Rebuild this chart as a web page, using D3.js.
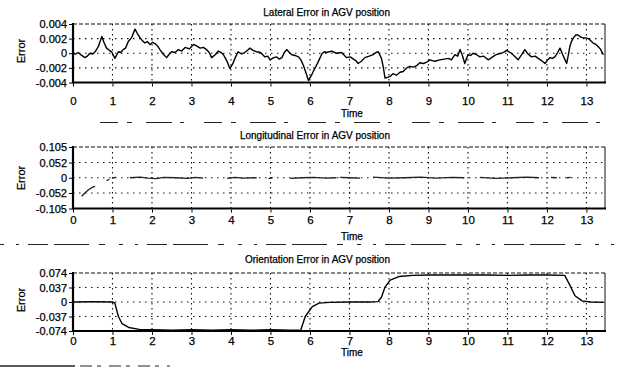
<!DOCTYPE html>
<html><head><meta charset="utf-8">
<script src="https://cdn.jsdelivr.net/npm/d3@7"></script>
<style>
body{margin:0;background:#fff;}
text{font-family:"Liberation Sans",Arial,sans-serif;fill:#000;stroke:#000;stroke-width:0.25px;}
</style></head>
<body>
<svg id="c" width="617" height="370"></svg>
<script>
// ---------- DATA ----------
const xTickValues = [0,1,2,3,4,5,6,7,8,9,10,11,12,13];
const timeDomain = [0, 13.47];

const latTicks = [0.004, 0.002, 0, -0.002, -0.004];
const latTickLabels = ["0.004","0.002","0","-0.002","-0.004"];
const latTime = [0,0.07,0.13,0.22,0.30,0.36,0.43,0.50,0.56,0.64,0.73,0.79,0.85,0.92,0.98,1.06,1.10,1.15,1.21,1.27,1.33,1.40,1.48,1.57,1.63,1.70,1.76,1.82,1.88,1.95,2.02,2.08,2.14,2.20,2.28,2.37,2.44,2.50,2.58,2.67,2.75,2.84,2.95,3.05,3.13,3.22,3.30,3.38,3.45,3.51,3.60,3.68,3.75,3.81,3.90,3.97,4.04,4.10,4.18,4.27,4.35,4.42,4.48,4.56,4.65,4.75,4.86,4.93,4.99,5.08,5.16,5.22,5.29,5.35,5.41,5.48,5.54,5.62,5.71,5.77,5.83,5.90,5.96,6.04,6.10,6.17,6.24,6.30,6.36,6.42,6.55,6.67,6.80,6.93,7.02,7.10,7.16,7.22,7.30,7.39,7.50,7.60,7.67,7.73,7.81,7.86,7.90,7.96,8.02,8.10,8.19,8.28,8.36,8.45,8.53,8.62,8.70,8.78,8.87,8.96,9.04,9.16,9.29,9.40,9.50,9.58,9.67,9.74,9.80,9.86,9.92,9.96,10.0,10.07,10.13,10.22,10.30,10.40,10.51,10.60,10.68,10.76,10.85,10.92,10.98,11.04,11.10,11.18,11.27,11.36,11.44,11.52,11.61,11.70,11.78,11.86,11.95,12.02,12.08,12.14,12.20,12.27,12.33,12.37,12.40,12.45,12.50,12.54,12.58,12.62,12.67,12.73,12.79,12.86,12.92,12.98,13.05,13.11,13.17,13.24,13.30,13.35,13.38,13.43];
const latError = [0,-0.0001,0.0001,-0.0003,-0.0006,-0.0004,0,-0.0001,0.0002,0.0009,0.0023,0.0014,0.0007,0.0004,0.0002,-0.0007,-0.0003,0.0002,0.0001,0.0005,0.0007,0.0016,0.0021,0.0033,0.0027,0.0021,0.0017,0.0014,0.0016,0.0012,0.0015,0.0013,0.0010,0.0005,-0.0001,-0.0006,-0.0001,0.0002,0.0001,0.0005,0.0003,0.0008,0.0006,0.0012,0.0010,0.0007,0.0008,0.0005,0.0001,-0.0006,-0.0002,0.0003,0.0001,-0.0002,-0.0011,-0.0021,-0.0015,-0.0007,0.0002,-0.0001,0.0001,0.0004,0.0007,0.0004,0.0002,0.0001,-0.0005,-0.0004,-0.0009,-0.0006,-0.0005,-0.0008,-0.0006,0.0001,0.0005,0.0001,-0.0002,-0.0003,-0.0005,-0.0009,-0.0016,-0.0027,-0.0037,-0.0030,-0.0023,-0.0016,-0.0008,-0.0001,0.0002,0.0001,0.0003,0,0.0001,-0.0006,-0.0005,-0.0008,-0.0010,-0.0014,-0.0011,-0.0006,-0.0004,-0.0002,0.0001,0.0002,-0.0007,-0.0020,-0.0034,-0.0033,-0.0032,-0.0028,-0.0030,-0.0026,-0.0025,-0.0020,-0.0018,-0.0019,-0.0017,-0.0013,-0.0014,-0.0012,-0.0009,-0.0011,-0.0009,-0.0008,-0.0007,-0.0009,-0.0002,-0.0004,0.0005,-0.0003,-0.0014,-0.0008,-0.0002,-0.0003,0,-0.0002,-0.0005,-0.0004,-0.0009,-0.0006,-0.0003,-0.0001,0,0.0002,0.0004,0.0002,0,-0.0004,-0.0009,-0.0002,0.0005,-0.0001,-0.0005,-0.0004,-0.0007,-0.0010,-0.0014,-0.0009,-0.0006,-0.0007,-0.0005,0.0001,0.0007,0.0002,-0.0002,-0.0008,-0.0014,-0.0003,0.0009,0.0016,0.0021,0.0025,0.0025,0.0022,0.0021,0.0021,0.0020,0.0017,0.0014,0.0012,0.0009,0.0006,0.0003,-0.0002];

const lonTicks = [0.105, 0.052, 0, -0.052, -0.105];
const lonTickLabels = ["0.105","0.052","0","-0.052","-0.105"];
const lonTime = [0.22,0.30,0.40,0.50,0.56,0.60, 0.85,0.92,0.95, 1.00,1.08,1.10, 1.44,1.70,1.90,2.10,2.30,2.60,2.90,3.10,3.30,3.35, 3.90,4.10,4.30,4.65,4.70, 4.95,5.05,5.10, 5.50,5.80,6.10,6.40,6.67,6.70, 6.76,7.00,7.27,7.30, 7.60,8.00,8.40,8.80,9.20,9.60,9.90,9.95, 10.30,10.70,11.10,11.50,11.80,11.85, 12.10,12.25,12.30, 12.50,12.60];
const lonError = [-0.063,-0.052,-0.040,-0.032,-0.029,null, -0.010,-0.005,null, -0.002,0.002,null, 0,0.002,-0.001,-0.003,0.001,0,-0.002,0.001,-0.001,null, -0.002,0.001,-0.001,0,null, -0.003,0,null, -0.002,0,0.001,-0.001,0,null, 0.001,0,-0.001,null, 0.002,-0.001,0,0.002,-0.001,0.001,0,null, 0.001,-0.002,0,0.002,0,null, 0.001,0,null, 0,0.001];

const oriTicks = [0.074, 0.037, 0, -0.037, -0.074];
const oriTickLabels = ["0.074","0.037","0","-0.037","-0.074"];
const oriTime = [0,0.5,1.0,1.06,1.15,1.24,1.41,1.68,2.0,2.5,3.0,3.5,4.0,4.5,5.0,5.5,5.72,5.76,5.88,6.06,6.23,6.5,7.0,7.5,7.72,7.81,7.90,8.03,8.25,8.6,9.0,9.5,10.0,10.5,11.0,11.5,12.0,12.45,12.58,12.71,12.89,13.1,13.45];
const oriError = [0,0.0005,0,-0.003,-0.037,-0.055,-0.065,-0.070,-0.071,-0.072,-0.071,-0.072,-0.071,-0.072,-0.071,-0.072,-0.072,-0.074,-0.037,-0.012,-0.003,-0.001,0,0,0.001,0.012,0.038,0.056,0.065,0.068,0.069,0.069,0.069,0.069,0.068,0.069,0.069,0.068,0.043,0.016,0.003,0,-0.001];

const titles = ["Lateral Error in AGV position","Longitudinal Error in AGV position","Orientation Error in AGV position"];
const yLabel = "Error";
const xLabel = "Time";

// ---------- DRAW ----------
const svg = d3.select("#c");
const x = d3.scaleLinear().domain(timeDomain).range([73, 605]);

// scan artifact strokes
const art = svg.append("g").attr("stroke","#222").attr("fill","none");
art.append("line").attr("x1",100).attr("x2",612).attr("y1",122.5).attr("y2",122.5).attr("stroke-width",1.2).attr("stroke-dasharray","18,9,5,14,26,8,4,20");
art.append("line").attr("x1",0).attr("x2",617).attr("y1",244.5).attr("y2",244.5).attr("stroke-width",1.2).attr("stroke-dasharray","4,12,3,9,20,6,35,10,6,14");
art.append("line").attr("x1",0).attr("x2",75).attr("y1",366).attr("y2",366).attr("stroke-width",1.5);
art.append("line").attr("x1",80).attr("x2",170).attr("y1",366).attr("y2",366).attr("stroke-width",1).attr("stroke-dasharray","12,5,4,8");

function panel(p){
  const g = svg.append("g");
  const y = d3.scaleLinear().domain([p.ticks[p.ticks.length-1], p.ticks[0]]).range([p.bottom, p.top]);
  // grid
  g.append("g").selectAll("line").data(xTickValues.filter(d=>d>0)).join("line")
    .attr("x1",d=>x(d)).attr("x2",d=>x(d)).attr("y1",p.top).attr("y2",p.bottom)
    .attr("stroke","#111").attr("stroke-width",1.1).attr("stroke-dasharray","1.5,3.5");
  g.append("g").selectAll("line").data(p.ticks.slice(1,-1)).join("line")
    .attr("x1",x(0)).attr("x2",x.range()[1]).attr("y1",d=>y(d)).attr("y2",d=>y(d))
    .attr("stroke","#111").attr("stroke-width",1.1).attr("stroke-dasharray","1.5,4.5");
  // frame
  g.append("line").attr("x1",x(0)).attr("x2",x.range()[1]).attr("y1",p.top).attr("y2",p.top)
    .attr("stroke","#111").attr("stroke-width",1.2).attr("stroke-dasharray","4,2");
  g.append("line").attr("x1",x.range()[1]).attr("x2",x.range()[1]).attr("y1",p.top).attr("y2",p.bottom)
    .attr("stroke","#111").attr("stroke-width",1);
  g.append("line").attr("x1",x(0)).attr("x2",x(0)).attr("y1",p.top-1).attr("y2",p.bottom+1)
    .attr("stroke","#000").attr("stroke-width",2.2);
  g.append("line").attr("x1",x(0)-1).attr("x2",x.range()[1]+1).attr("y1",p.bottom).attr("y2",p.bottom)
    .attr("stroke","#000").attr("stroke-width",2.2);
  // line
  const pts = p.t.map((t,i)=>({t, v:p.v[i]}));
  g.append("path").datum(pts)
    .attr("fill","none").attr("stroke",p.color||"#000").attr("stroke-width",p.sw||1.4)
    .attr("stroke-linejoin","round")
    .attr("d", d3.line().defined(d=>d.v!==null).x(d=>x(d.t)).y(d=>y(d.v)));
  // y axis
  const ya = d3.axisLeft(y).tickValues(p.ticks).tickFormat((d,i)=>p.labels[i]).tickSize(3).tickPadding(2);
  const yg = g.append("g").attr("transform",`translate(${x(0)-1},0)`).call(ya);
  yg.select(".domain").remove();
  yg.selectAll("text").attr("font-size",11).attr("font-family","Liberation Sans, Arial, sans-serif");
  // x axis
  const xa = d3.axisBottom(x).tickValues(xTickValues).tickFormat(d3.format("d")).tickSize(3).tickPadding(p.xpad);
  const xg = g.append("g").attr("transform",`translate(0,${p.bottom+1})`).call(xa);
  xg.select(".domain").remove();
  xg.selectAll("text").attr("font-size",11.5).attr("font-family","Liberation Sans, Arial, sans-serif");
  // labels
  g.append("text").attr("x",390).attr("y",p.titleY).attr("text-anchor","end").attr("font-size",10).text(p.title);
  g.append("text").attr("x",352).attr("y",p.timeY).attr("text-anchor","middle").attr("font-size",10).text(xLabel);
  g.append("text").attr("transform",`translate(25,${p.errY}) rotate(-90)`).attr("text-anchor","middle").attr("font-size",11).text(yLabel);
}

panel({top:24, bottom:82.5, ticks:latTicks, labels:latTickLabels, t:latTime, v:latError, title:titles[0], titleY:16, timeY:117, errY:51, xpad:10});
panel({top:147, bottom:208.5, ticks:lonTicks, labels:lonTickLabels, t:lonTime, v:lonError, title:titles[1], titleY:139, timeY:240, errY:178, xpad:3.5, color:"#222", sw:1.3});
panel({top:273, bottom:331, ticks:oriTicks, labels:oriTickLabels, t:oriTime, v:oriError, title:titles[2], titleY:263, timeY:356, errY:300, xpad:2});
</script>
</body></html>
